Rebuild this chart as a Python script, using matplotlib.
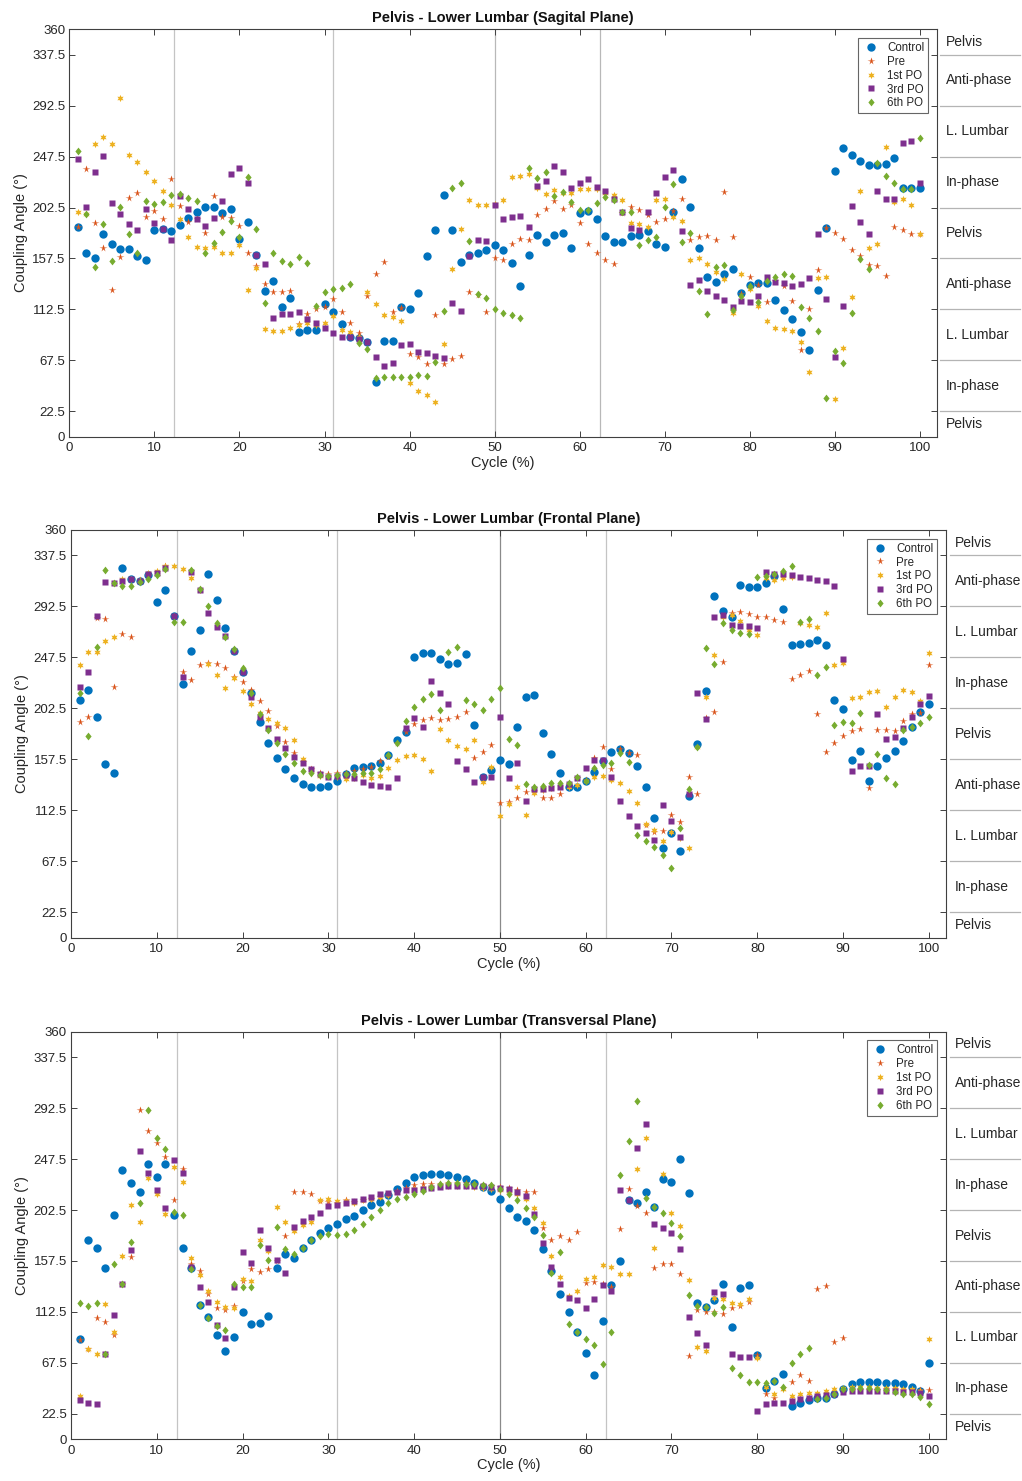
import matplotlib
matplotlib.use('Agg')
import matplotlib.pyplot as plt
import matplotlib.transforms as mtransforms
import numpy as np

plt.rcParams['font.family'] = ['Liberation Sans', 'DejaVu Sans']

# ── Data (coupling angle in degrees, one value per % of cycle) ────────────────
CYCLE = np.arange(1, 101)

SAG_CONTROL = [185, 162.6, 158, 179.4, 170.6, 166, 166, 159.7, 156.5, 182.7,
               183.3, 182, 187.4, 193.3, 198.9, 202.7, 203.3, 197.4, 201, 175,
               189.7, 160.3, 128.8, 137.9, 115, 122.3, 92.8, 94.3, 94.3, 117.3,
               110, 99.6, 88.4, 87, 83.4, 48.6, 84.9, 84.9, 114.3, 112.8,
               127.3, 159.7, 182.7, 213.6, 182.7, 154.4, 160.3, 162, 165, 169.4,
               165, 153.2, 133.2, 160.3, 178, 172.4, 178, 179.7, 166.5, 197.4,
               199.5, 192.4, 177.4, 172, 172, 177.4, 178.3, 181.8, 170.6, 168,
               198.6, 227.8, 202.7, 166.8, 141.1, 136.7, 143.8, 148.5, 127.3, 134,
               135.5, 135.5, 120.8, 112, 103.7, 92.8, 76.6, 129.6, 184.7, 234.5,
               255.2, 249.3, 244, 240.4, 240.4, 241, 246.3, 219.5, 219.5, 219.5]
SAG_PRE = [185, 236.3, 189, 167, 129.6, 159, 210.7, 215, 193.9, 199.8,
           192.7, 227.5, 203.9, 189.7, 192, 179.7, 212.7, 194.5, 193, 186.2,
           162, 151.1, 134.7, 127.6, 127.6, 128.8, 100, 108.1, 112.5, 114.9,
           121.7, 110, 100.8, 91.9, 124.3, 143.8, 154.7, 110.5, 114, 73,
           70.7, 63.9, 107.5, 63.9, 68.4, 71.3, 127.6, 125, 110.5, 157.9,
           156.2, 170, 174.4, 173.8, 195.9, 201.5, 208, 201, 205, 189.2,
           170, 162, 156.2, 152.3, 198, 203.3, 200.4, 196, 189.7, 192.7,
           199.2, 210.4, 173.8, 176.8, 177.7, 173.8, 216, 176.5, 126, 141.4,
           134, 119.3, 137.9, 133.2, 119.9, 76.6, 112.8, 147, 184.7, 180,
           175, 165, 160, 151.7, 151.1, 142.3, 185.3, 182.7, 179.4, 179]
SAG_PO1 = [198.6, 197, 258.7, 264.6, 258.4, 299.4, 249, 242.5, 233.6, 226.3,
           217.4, 204.5, 192.1, 176.5, 167.6, 166.8, 167.4, 162.6, 162, 169.1,
           129.6, 148.8, 94.9, 93.7, 93.7, 96.3, 98.7, 100.8, 98.7, 100.8,
           106.7, 94.3, 92.8, 88, 127.6, 117, 107.5, 106, 102.2, 47.7,
           40.7, 36.8, 30.9, 81.9, 148.2, 183.3, 209.2, 204.8, 204.5, 206,
           209.2, 229.2, 230.7, 232.2, 220.1, 214.5, 218, 215.7, 215.7, 218.6,
           219.2, 218.6, 215, 213.6, 209.2, 189.2, 188, 185.6, 209.2, 209.8,
           194.5, 190.3, 156.2, 158.2, 152.3, 145.8, 139.4, 109, 143.8, 130.8,
           115.5, 102.5, 96.3, 95.2, 93.7, 84, 57.5, 140, 140.8, 33.3,
           78.1, 123.2, 217.1, 167.1, 170.3, 255.7, 207.7, 210, 205, 179.4]
SAG_PO3 = [245.1, 203.3, 233.6, 248.4, 206.8, 197.1, 188.3, 182.4, 201, 188.6,
           183.9, 173.5, 213, 201.2, 192.1, 185.9, 193.3, 208, 232.5, 237.8,
           224.5, 160.3, 152.3, 105.2, 108.4, 108.1, 110.5, 104, 100.8, 95.8,
           91.3, 88.4, 88.4, 86.3, 84, 70.7, 62.8, 65.4, 81, 81.6,
           75.1, 73.7, 71.3, 69.8, 117.9, 111.1, 159.7, 173.8, 173.2, 205.1,
           192.7, 194.5, 195.3, 185.6, 221.9, 225.7, 239.2, 233.6, 219.5, 223.9,
           227.8, 221, 217.1, 209.8, 198.3, 184.7, 182.7, 198.6, 215, 229.8,
           235.7, 182, 133.8, 138.5, 128.8, 124.3, 120.8, 114.3, 119.9, 119.3,
           124.3, 140.8, 137, 135.5, 133.2, 134.7, 140.2, 178.8, 121.4, 70.1,
           115.8, 204.2, 190, 178.8, 217.4, 210.4, 210.4, 259.6, 261.6, 223.9]
SAG_PO6 = [252.5, 196.5, 150.3, 188.3, 155.3, 203.3, 179.1, 162.6, 208.3, 205.4,
           207.1, 213.6, 214.2, 211.3, 208.3, 162.6, 170.9, 180.6, 190.3, 176.2,
           229.8, 183.3, 117.9, 162.6, 155.3, 152.3, 159.1, 153.2, 115.8, 127.6,
           130.5, 131.1, 134.7, 82.5, 77.2, 52.2, 53, 52.4, 52.4, 52.4,
           54.2, 53.6, 66.3, 111.4, 220.1, 224.5, 173, 125.8, 122.3, 112.5,
           109, 107.5, 104.6, 237.8, 228.3, 233.6, 213, 216, 207.7, 200.4,
           200.4, 206.8, 212.1, 209.2, 198.6, 198.9, 169.1, 173.8, 176.2, 203.3,
           223.3, 172.4, 179.7, 129, 108.1, 150.3, 151.7, 112, 124.3, 133.5,
           119.3, 137.6, 140.8, 143.8, 142, 114.9, 104.6, 93.7, 34.5, 76,
           64.8, 109, 157.3, 147.9, 241.6, 230.4, 224.5, 218.9, 218.9, 264.3]

FRO_CONTROL = [209.9, 218.7, 194.6, 153.7, 145.7, 326.8, 317, 315, 320.3, 296.1,
               307, 284.4, 224, 253.5, 271.7, 320.9, 298.2, 273.2, 253.2, 234.9,
               216.4, 190.2, 172.2, 159, 148.7, 141.3, 135.4, 132.8, 132.8, 133.9,
               138.4, 144.2, 149.5, 151, 151.9, 154.5, 161.3, 174.6, 181.3, 248.2,
               251.7, 251.1, 245.8, 241.7, 242.3, 250.5, 187.8, 141.6, 148.1, 156.9,
               153.4, 185.7, 212.8, 214, 181, 162.2, 145.1, 133.4, 133.4, 138.4,
               146.6, 156, 164.3, 166.3, 162.8, 151.6, 132.8, 105.4, 78.9, 92.7,
               76.5, 125.1, 170.7, 218.1, 301.7, 288.8, 282.9, 311.2, 309.4, 310,
               312.9, 319.7, 290, 258.5, 259.1, 259.9, 262.9, 258.5, 209.9, 201.9,
               156.9, 164.8, 138.7, 151.9, 158.4, 165.1, 174, 186.3, 199.3, 206.4]
FRO_PRE = [190.5, 195.2, 282, 281.4, 221.1, 268.2, 265.8, 316, 320, 323,
           328.5, 284, 234.9, 227.6, 241.1, 242.9, 241.7, 238.4, 230.5, 226.1,
           218.7, 209, 200.5, 186.9, 172.5, 163, 155.4, 148.7, 145.1, 144.5,
           145.1, 145.7, 147, 148.7, 151, 156.3, 160, 172, 181.9, 188.7,
           192.2, 193.7, 192.2, 193.1, 194.6, 199.6, 158.4, 164.3, 170.2, 119.2,
           120.1, 123.6, 128.9, 129.8, 123, 123, 126.6, 134.8, 141.3, 139.2,
           159, 168.7, 148.7, 166.3, 162.8, 161.3, 99.5, 93, 94.2, 108.3,
           101.9, 141.6, 126.9, 194, 199.3, 243.7, 286.4, 287.3, 285.8, 283.5,
           282.9, 280.5, 278.5, 228.4, 232, 235.5, 197.2, 164, 171.6, 178.1,
           182.8, 184.3, 131.9, 183.4, 183.4, 182.8, 191.3, 197.5, 198.1, 240.8]
FRO_PO1 = [240.8, 252, 252, 262, 265.2, 316.7, 316.5, 315.9, 321.7, 323.8,
           328.2, 328.5, 325.6, 317.9, 307, 241.4, 232, 220.2, 229, 218.1,
           206.4, 198.7, 193.1, 189.9, 184.9, 174.6, 157.5, 148.1, 142.8, 142.8,
           142.2, 139.8, 141, 144, 140.7, 142.8, 149.5, 156.9, 160.4, 161.3,
           157.5, 147.5, 184, 174.6, 169.6, 166.6, 174.6, 137.8, 151, 107.4,
           117.8, 132.8, 108, 127.5, 130, 132, 133, 132.8, 134.8, 138.4,
           142.2, 142.8, 139.2, 136.9, 129.5, 118.6, 100, 95, 85.7, 93.6,
           88, 78.9, 168, 212.2, 249.3, 283.5, 285, 280, 272, 267.3,
           318, 315.9, 317.9, 318.2, 278, 276, 274.7, 286.4, 240.5, 242.9,
           211.4, 212.8, 217.2, 218.1, 203.4, 212.8, 218.7, 217.2, 209.3, 251.7]
FRO_PO3 = [221.7, 234.3, 284.4, 314.4, 313.5, 315, 316.7, 315, 321.2, 322.3,
           326.8, 284.4, 229.9, 323.2, 307, 286.4, 274.1, 266.4, 253.5, 234.9,
           212.8, 195.2, 184.9, 175.2, 167.2, 159.8, 154, 148.7, 144.5, 142.2,
           142.8, 143.7, 140.7, 137.5, 134.5, 133.9, 132.8, 140.7, 185.5, 193.7,
           185.7, 227, 215.8, 206.1, 156.3, 148.7, 137.8, 141.6, 142.2, 194.6,
           140.7, 154.5, 120.7, 131, 131, 131.9, 133.4, 136, 140.7, 150.1,
           156.9, 156.9, 141.6, 120.7, 107.4, 98.9, 92.7, 86.3, 117.2, 103,
           89.2, 126.9, 216.4, 193.1, 283.5, 285, 276.1, 275.2, 275.2, 273.8,
           323.2, 321.2, 321.2, 320.3, 318.8, 317.3, 315.9, 315, 310.6, 245.8,
           147.5, 151.6, 151.9, 197.5, 175.2, 176.9, 185, 195.2, 206.1, 213.4]
FRO_PO6 = [216.4, 178.4, 257, 324.7, 313.5, 310.6, 310.6, 314.4, 316.7, 320.3,
           325.3, 278.5, 279.1, 324.7, 307.6, 292.9, 278.2, 265.8, 254.6, 237.9,
           216.4, 197.5, 183.4, 171.6, 162.2, 154, 147.5, 145.7, 143.7, 142.8,
           143.7, 144.5, 144.8, 145.1, 145.7, 148.7, 161.3, 171.6, 191.6, 204,
           210.8, 215.2, 201, 252, 257, 209.9, 206.4, 201, 211.1, 220.2,
           175.2, 169.9, 135.7, 133.4, 133.9, 136.3, 136.9, 136.9, 142.2, 138.4,
           149.5, 152.5, 154, 162.8, 155.4, 90.7, 85.4, 80.4, 73, 61.8,
           96.6, 131, 168.7, 255.5, 241.4, 277.6, 271.7, 269.4, 268.2, 318.8,
           319.4, 321.2, 323.8, 328.2, 279.1, 281.4, 232, 238.7, 187.8, 190.8,
           189.3, 198.7, 152.5, 162.2, 140.7, 135.4, 183.4, 186.3, 189.3, 194.6]

TRA_CONTROL = [88.3, 176, 168.7, 151.6, 198.1, 237.9, 226.7, 218.7, 242.9, 232,
               242.9, 197.8, 168.7, 151.6, 118.6, 108, 91.8, 78, 90.4, 112.7,
               102.1, 103, 108.9, 151.6, 163.4, 160.4, 169.3, 176, 182.5, 186.9,
               190.5, 194.3, 197.2, 202.5, 206.7, 209.6, 215.8, 221.4, 226.1, 231.7,
               233.4, 234, 234, 233.1, 232, 229.6, 226.7, 223.1, 219.3, 212,
               204, 196.6, 192.8, 184.9, 168.4, 148.7, 128.1, 112.5, 94.8, 76.5,
               56.5, 104.5, 136, 157.5, 211.1, 208.4, 218.7, 205.5, 230.2, 227.6,
               247.3, 217.8, 120.7, 116.9, 123, 137.5, 99.2, 133.9, 136.3, 74.2,
               45, 51.5, 58, 29.4, 32.4, 34.7, 36.8, 36.8, 39.7, 44.7,
               48.6, 50.6, 50.6, 50.6, 50, 49.5, 48.6, 46.2, 42.7, 67.7]
TRA_PRE = [87.4, 80.1, 107.4, 103.6, 92.1, 137.5, 161.3, 290.6, 272.3, 261.4,
           249.3, 211.7, 238.4, 154.5, 148.7, 128, 115.7, 113.9, 117.8, 140,
           150.1, 147.8, 150.7, 157.5, 179.6, 218.7, 218.1, 216.4, 210.5, 209.6,
           209, 211.1, 210, 211, 212, 214, 216, 219, 222, 224.3,
           225.2, 225.8, 225.8, 226.1, 226.1, 226.1, 225.8, 224.3, 223.4, 222.8,
           222.3, 220.5, 218.7, 218.4, 186.9, 175.7, 179.6, 175.7, 183.4, 138.4,
           138.9, 137.5, 134.8, 185.5, 220.8, 206.1, 200.2, 151.6, 155.1, 154.5,
           145.7, 73.6, 113.9, 112.7, 112.7, 111, 116.3, 118, 121, 74.2,
           40, 36.8, 45, 50.6, 56.8, 51.5, 132.5, 135.4, 86.3, 89.2,
           44.2, 43.8, 43.5, 43.5, 44, 44, 43.8, 43.5, 43.3, 43.3]
TRA_PO1 = [38.3, 80, 75.1, 119.2, 95, 161.9, 206.9, 192.2, 230.5, 216.4,
           198.7, 240.5, 227.6, 159.8, 144.8, 131, 121.3, 117.2, 116.3, 141.9,
           140, 175.7, 166.3, 205.2, 191.9, 184, 189.3, 192.2, 211.4, 212,
           210.5, 210.5, 209, 211, 212, 214, 216, 218, 220, 221,
           222, 223, 224, 224, 224, 224, 223, 222, 221, 220,
           219, 217, 212, 204.6, 191.3, 161.9, 143.4, 126.6, 131, 141.3,
           143.4, 153.7, 152.5, 146.3, 145.7, 238.4, 265.8, 169.3, 234, 200,
           188.4, 140.4, 81.5, 78, 125.1, 124.2, 120.7, 119.8, 123.6, 72,
           46, 40, 44.2, 38, 40, 41, 41.2, 42.7, 44.7, 45.5,
           46, 46, 46, 45.5, 45, 45, 44.5, 44, 43, 88.9]
TRA_PO3 = [34.7, 31.8, 30.9, 75, 109.5, 137, 167.2, 254.6, 235.5, 220.2,
           204.6, 246.7, 235.5, 152.2, 134.5, 121.3, 101, 89.8, 134.8, 165.7,
           156, 184.9, 169.3, 158.1, 147.2, 187.8, 192.8, 196.3, 199.9, 206.1,
           206.9, 209, 210.5, 212.5, 214.3, 216.4, 217.3, 218.7, 219.9, 220.2,
           221.1, 222.3, 223, 223.4, 223.7, 223.7, 223.7, 223.4, 222.8, 222,
           220.8, 218.7, 214.9, 198.7, 173.1, 152.5, 137.5, 125.1, 122.8, 116.3,
           124.2, 136.3, 131, 219.9, 211, 257, 278.2, 190.5, 186.9, 181.9,
           168.4, 108, 94.2, 83, 130.4, 128.1, 75.1, 73, 72.7, 25,
           31.5, 32.4, 32.4, 33.9, 35.9, 36.8, 38.3, 39, 40, 42.1,
           42.5, 43, 43, 42.5, 42.5, 42.5, 42, 41.5, 40.5, 38.3]
TRA_PO6 = [120.7, 117.8, 120.7, 75.1, 154.5, 136.9, 174.6, 208.4, 290.6, 266.4,
           256.7, 201.1, 198.1, 150.1, 118.6, 107.4, 100.1, 96.3, 136.9, 134.5,
           134.5, 171.6, 158.4, 187.5, 167.8, 163.4, 169.3, 176, 179.6, 181,
           180.2, 181.6, 185.2, 190.5, 196.6, 202.5, 208.4, 212, 214.3, 216.4,
           219.3, 223.1, 225.2, 226.1, 226.1, 225.8, 225.2, 224.6, 224.3, 221.4,
           217, 211.4, 204, 196.6, 180.2, 147.2, 165.7, 101.6, 94.8, 88.9,
           83.3, 66.2, 94.8, 233.1, 263.5, 298.8, 213.4, 205.5, 199.9, 191,
           179.6, 127.2, 117.8, 116.9, 111.9, 116.9, 63.3, 56.5, 50.6, 50.9,
           50, 51.5, 46.2, 67.7, 75.1, 81, 35.9, 36.8, 39.7, 44.2,
           44.7, 45, 45.6, 44.2, 43.3, 42.1, 40.3, 39.7, 37.4, 30.9]

GROUPS = ['Control', 'Pre', '1st PO', '3rd PO', '6th PO']
TITLES = ['Pelvis - Lower Lumbar (Sagital Plane)',
          'Pelvis - Lower Lumbar (Frontal Plane)',
          'Pelvis - Lower Lumbar (Transversal Plane)']

# gait events (% cycle)
EVENTS = [12.3, 31.05, 50, 62.4]

LEFT_TICKS = [0, 22.5, 67.5, 112.5, 157.5, 202.5, 247.5, 292.5, 337.5, 360]
BAND_EDGES = [0, 22.5, 67.5, 112.5, 157.5, 202.5, 247.5, 292.5, 337.5, 360]
BAND_LABELS = ['Pelvis', 'In-phase', 'L. Lumbar', 'Anti-phase', 'Pelvis',
               'In-phase', 'L. Lumbar', 'Anti-phase', 'Pelvis']

# ── Style ─────────────────────────────────────────────────────────────────────
DIAMOND = [(0, 1), (0.8, 0), (0, -1), (-0.8, 0), (0, 1)]
COLORS = ['#0072BD', '#D95319', '#EDB120', '#7E2F8E', '#77AC30']
MARKERS = ['o', '*', (6, 1, 0), 's', DIAMOND]
SIZES = [6.0, 5.4, 5.2, 3.8, 5.6]
AX_COLOR = '#404040'
TXT_COLOR = '#262626'

W, H = 1022, 1481
# axes boxes in pixels: left, top, right, bottom
BOXES = [(69.3, 29.3, 937, 436.7),
         (71, 530, 946, 937.7),
         (71, 1031.7, 946, 1439.3)]
EVENT_COLORS = [['#c4c4c4', '#c4c4c4', '#b8b8b8', '#b8b8b8'],
                ['#c4c4c4', '#c4c4c4', '#8a8a8a', '#c4c4c4'],
                ['#c4c4c4', '#c4c4c4', '#8a8a8a', '#c4c4c4']]


def draw_panel(fig, box, title, series, ev_colors):
    l, t, r, b = box
    ax = fig.add_axes([l / W, 1 - b / H, (r - l) / W, (b - t) / H])

    for ex, ec in zip(EVENTS, ev_colors):
        ax.axvline(ex, color=ec, lw=0.9, zorder=1)

    for vals, name, c, m, s in zip(series, GROUPS, COLORS, MARKERS, SIZES):
        ax.plot(CYCLE, vals, linestyle='none', marker=m, ms=s, color=c,
                mec='none', label=name, zorder=3)

    ax.set_xlim(0, 102)
    ax.set_ylim(0, 360)
    ax.set_xticks(np.arange(0, 101, 10))
    ax.set_yticks(LEFT_TICKS)
    ax.set_yticklabels([f'{v:g}' for v in LEFT_TICKS])
    ax.tick_params(direction='in', length=4, width=0.7, color=AX_COLOR,
                   labelcolor=TXT_COLOR, labelsize=9.5, top=True, right=False)
    ax.tick_params(axis='x', pad=4)
    ax.tick_params(axis='y', pad=3)
    for sp in ax.spines.values():
        sp.set_color(AX_COLOR)
        sp.set_linewidth(0.8)

    ax.set_xlabel('Cycle (%)', fontsize=10.5, color=TXT_COLOR, labelpad=1)
    ax.set_ylabel('Coupling Angle (°)', fontsize=10.5, color=TXT_COLOR, labelpad=3)
    ax.set_title(title, fontsize=10.5, fontweight='bold', color='#111111', pad=5)

    # right-hand axis: phase bands
    ax2 = ax.twinx()
    ax2.set_ylim(0, 360)
    ax2.set_yticks(BAND_EDGES[1:-1])
    ax2.set_yticklabels([])
    ax2.tick_params(direction='in', length=4, width=0.7, color=AX_COLOR)
    for sp in ax2.spines.values():
        sp.set_visible(False)

    trans = mtransforms.blended_transform_factory(ax.transAxes, ax.transData)
    x_end = (W - 2 - l) / (r - l)
    for edge in BAND_EDGES[1:-1]:
        ax.plot([1.004, x_end], [edge, edge], color='#b4b4b4', lw=0.9,
                transform=trans, clip_on=False)
    for lo, hi, lab in zip(BAND_EDGES[:-1], BAND_EDGES[1:], BAND_LABELS):
        ax.text(1.0105, (lo + hi) / 2, lab, transform=trans, fontsize=10,
                color=TXT_COLOR, ha='left', va='center')

    leg = ax.legend(loc='upper right', fontsize=8.3, frameon=True, fancybox=False,
                    borderpad=0.35, labelspacing=0.16, handletextpad=0.6,
                    handlelength=1.6, borderaxespad=0.75)
    leg.get_frame().set_edgecolor(AX_COLOR)
    leg.get_frame().set_linewidth(0.8)
    for txt in leg.get_texts():
        txt.set_color(TXT_COLOR)
    return ax


fig = plt.figure(figsize=(W / 100, H / 100), dpi=100)

panels = [
    [SAG_CONTROL, SAG_PRE, SAG_PO1, SAG_PO3, SAG_PO6],
    [FRO_CONTROL, FRO_PRE, FRO_PO1, FRO_PO3, FRO_PO6],
    [TRA_CONTROL, TRA_PRE, TRA_PO1, TRA_PO3, TRA_PO6],
]
for box, title, series, evc in zip(BOXES, TITLES, panels, EVENT_COLORS):
    draw_panel(fig, box, title, series, evc)

fig.savefig('out.png', dpi=100)
